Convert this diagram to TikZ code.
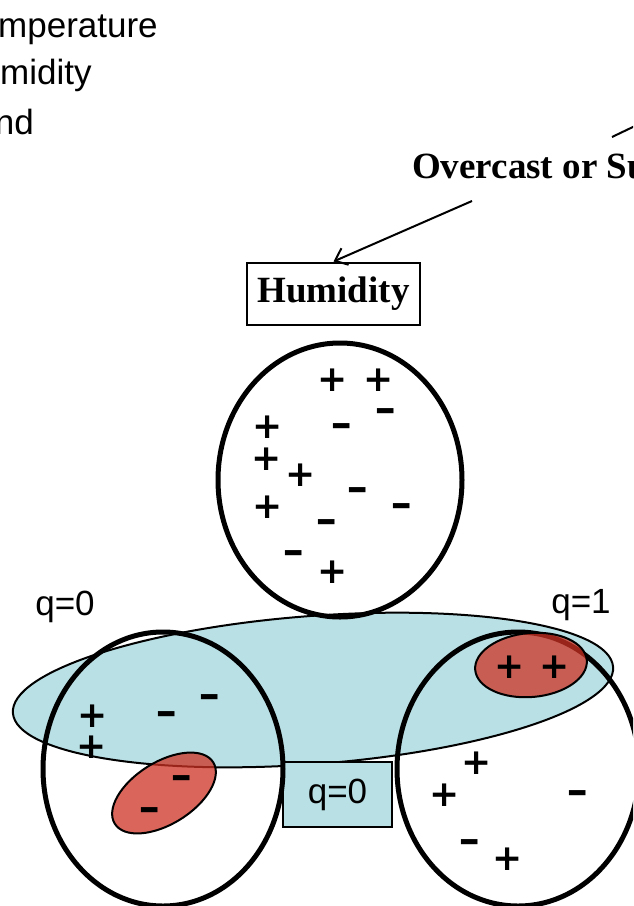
\documentclass[tikz,border=0pt]{standalone}
\usepackage{fontspec}
\setmainfont{Liberation Sans}
\newfontfamily\headfont{Liberation Serif}
\newfontfamily\signfont{DejaVu Sans}
\usepackage{graphicx}
\usetikzlibrary{arrows.meta}
\definecolor{SplitCyan}{RGB}{185,224,228}
\definecolor{LeafRed}{RGB}{205,50,35}
\newcommand{\wideminus}{\scalebox{1.5}[1]{-}}

\begin{document}
\begin{tikzpicture}[x=1pt,y=-1pt,
  attr/.style={font=\fontsize{35}{42}\selectfont,inner sep=0pt},
  head/.style={font=\headfont\bfseries\fontsize{37}{44}\selectfont,inner sep=0pt},
  testbox/.style={head,draw,line width=2pt,minimum width=173pt,minimum height=62pt},
  subset/.style={draw,line width=5pt},
  split/.style={draw,line width=2pt,fill=SplitCyan},
  leaf/.style={draw,line width=2pt,fill=LeafRed,fill opacity=0.75},
  qbox/.style={attr,draw,line width=2pt,fill=SplitCyan,minimum width=109pt,minimum height=65pt},
  sgn/.style={font=\signfont\bfseries\fontsize{36}{40}\selectfont,inner sep=0pt},
  negsgn/.style={sgn,yshift=-4pt},
]
\clip (0,0) rectangle (633,906);

% attribute list (cut off at the left)
\node[attr,anchor=base west] (temp) at (-2,37) {mperature};
\node[attr,anchor=base west] (humi) at (0,84) {midity};
\node[attr,anchor=base east] (wind) at (34,134) {nd};

% test node and its branch
\node[head,anchor=base west] (ovc) at (412,178) {Overcast or Su};
\coordinate (ovtop) at (612,137);
\coordinate (parent) at (660,114);
\draw[line width=2pt] (ovtop) -- (parent);
\coordinate (ovbot) at (472,201);
\node[testbox] (hum) at (333.5,293.5) {Humidity};
\draw[line width=2pt,-{Straight Barb[length=11pt,width=18pt]}] (ovbot) -- (hum.north);

% split region and its label box
\draw[split] (313,690) ellipse [x radius=301, y radius=74, rotate=4.4];
\node[qbox] (qmid) at (337.5,794.5) {q=0};
\node[attr,anchor=base] (qleft) at (65,615) {q=0};
\node[attr,anchor=base] (qright) at (581,613) {q=1};

% the three subsets
\draw[subset] (340,480) ellipse [x radius=122, y radius=137];
\draw[subset] (163,769) ellipse [x radius=120, y radius=137];
\draw[subset] (518,769) ellipse [x radius=121, y radius=137];

% leaves
\draw[leaf] (164,793) ellipse [x radius=58, y radius=31, rotate=32];
\draw[leaf] (531,665) ellipse [x radius=56, y radius=32, rotate=5];

% examples in the top subset
\node[sgn] (tp1) at (333,380) {+};
\node[sgn] (tp2) at (379,380) {+};
\node[negsgn] (tm1) at (386,411) {\wideminus};
\node[sgn] (tp3) at (268,427) {+};
\node[negsgn] (tm2) at (342,426) {\wideminus};
\node[sgn] (tp4) at (267,459) {+};
\node[sgn] (tp5) at (301,475) {+};
\node[negsgn] (tm3) at (358,490) {\wideminus};
\node[sgn] (tp6) at (268,507) {+};
\node[negsgn] (tm4) at (402,506) {\wideminus};
\node[negsgn] (tm5) at (327,522) {\wideminus};
\node[negsgn] (tm6) at (294,553) {\wideminus};
\node[sgn] (tp7) at (333,572) {+};

% examples in the left subset
\node[sgn] (lp1) at (93,716) {+};
\node[sgn] (lp2) at (92,747) {+};
\node[negsgn] (lm1) at (167,714) {\wideminus};
\node[negsgn] (lm2) at (210,697) {\wideminus};
\node[negsgn] (lm3) at (182,778) {\wideminus};
\node[negsgn] (lm4) at (150,810) {\wideminus};

% examples in the right subset
\node[sgn] (rp1) at (477,763) {+};
\node[sgn] (rp2) at (445,795) {+};
\node[negsgn] (rm1) at (578,793) {\wideminus};
\node[negsgn] (rm2) at (470,842) {\wideminus};
\node[sgn] (rp3) at (508,859) {+};
\node[sgn] (rp4) at (510,667) {+};
\node[sgn] (rp5) at (555,667) {+};
\end{tikzpicture}
\end{document}
